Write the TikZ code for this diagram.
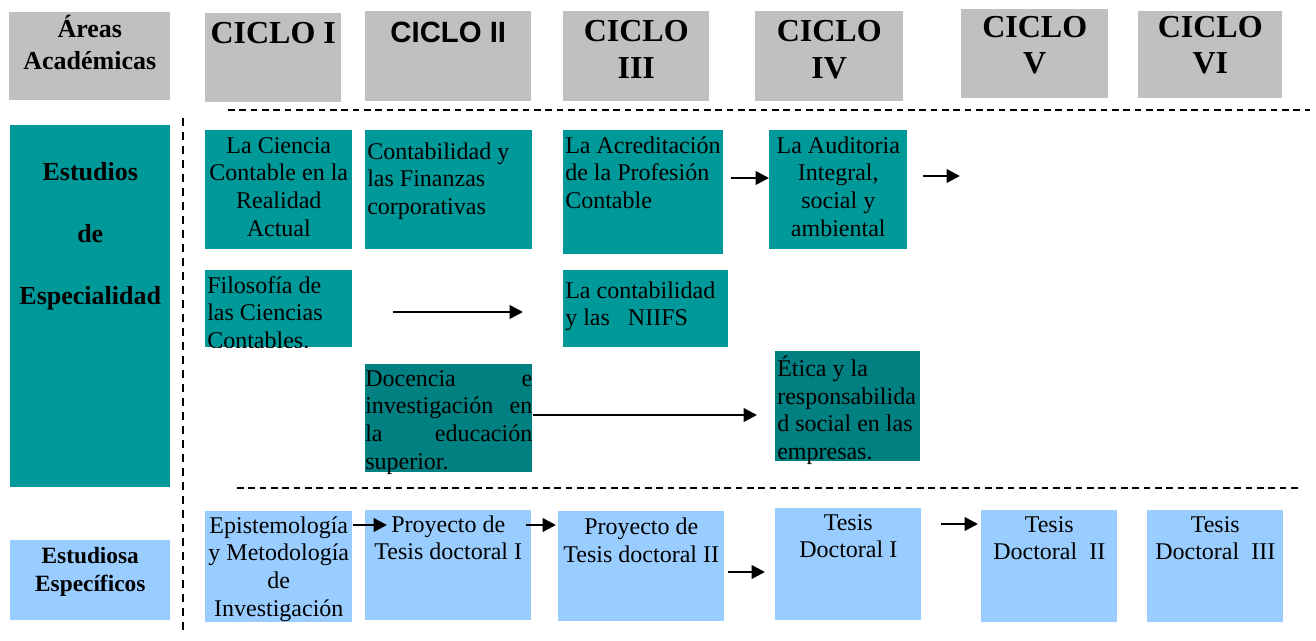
\documentclass[tikz,border=0pt]{standalone}
\usepackage{fontspec}
\setmainfont{Liberation Serif}
\newfontfamily\arialf{Liberation Sans}
\usetikzlibrary{arrows.meta}
\definecolor{grayh}{HTML}{C0C0C0}
\definecolor{tealA}{HTML}{009999}
\definecolor{tealB}{HTML}{008080}
\definecolor{blueL}{HTML}{99CCFF}
\tikzset{
  arr/.style={-{Triangle[length=10pt,width=10pt]}, line width=2pt},
  dlineh/.style={line width=1.2pt, dash pattern=on 5pt off 3.5pt},
  dlinev/.style={line width=1.1pt, dash pattern=on 6pt off 4.5pt},
  bx/.style={inner sep=0pt, anchor=north west},
}
\newcommand\bodyf{\fontsize{18}{20.7}\selectfont}
\newcommand\Ctop[1]{\centering\bodyf\vspace*{#1}\strut}
\newcommand\Ltop[1]{\raggedright\leftskip=1.5pt\bodyf\vspace*{#1}\strut}
\newcommand\tbox[8]{\node[bx,fill=#6] (#1) at (#2,#3) {\parbox[c][\dimexpr #5pt*3/4\relax][t]{\dimexpr #4pt*3/4\relax}{#7#8}};}
\begin{document}
\begin{tikzpicture}[x=0.75pt,y=-0.75pt]
\useasboundingbox (0,0) rectangle (1316,641);
% header row
\tbox{hareas}{9}{12}{161}{88}{grayh}{\centering\fontsize{19.5}{24}\selectfont\bfseries\vspace*{2pt}\strut}{Áreas\\Académicas}
\tbox{hc1}{205}{13}{136}{89}{grayh}{\centering\fontsize{24}{27.75}\selectfont\bfseries\vspace*{3.3pt}\strut}{CICLO I}
\tbox{hc2}{365}{11}{166}{90}{grayh}{\centering\arialf\fontsize{22}{27}\selectfont\bfseries\vspace*{4.2pt}\strut}{CICLO II}
\tbox{hc3}{563}{11}{146}{90}{grayh}{\centering\fontsize{24}{27.75}\selectfont\bfseries\vspace*{3.1pt}\strut}{CICLO\\III}
\tbox{hc4}{755}{11}{148}{90}{grayh}{\centering\fontsize{24}{27.75}\selectfont\bfseries\vspace*{3.1pt}\strut}{CICLO\\IV}
\tbox{hc5}{961}{9}{147}{89}{grayh}{\centering\fontsize{24}{27}\selectfont\bfseries\vspace*{2.3pt}\strut}{CICLO\\V}
\tbox{hc6}{1138}{11}{144}{87}{grayh}{\centering\fontsize{24}{27}\selectfont\bfseries\vspace*{0.8pt}\strut}{CICLO\\VI}
% dashed separators
\draw[dlineh] (228,110) -- (1310,110);
\draw[dlinev] (183,118) -- (183,636);
\draw[dlineh] (237,488) -- (1300,488);
% left area boxes
\tbox{esp}{10}{125}{160}{362}{tealA}{\centering\fontsize{19.5}{46.5}\selectfont\bfseries\vspace*{9pt}\strut}{Estudios\\de\\Especialidad}
\tbox{espec}{10}{540}{160}{80}{blueL}{\centering\fontsize{17.5}{21}\selectfont\bfseries\vspace*{3pt}\strut}{Estudiosa\\Específicos}
% row 1
\tbox{ciencia}{205}{130}{147}{119}{tealA}{\Ctop{2.8pt}}{La Ciencia\\Contable en la\\Realidad\\Actual}
\tbox{finanzas}{365}{130}{167}{119}{tealA}{\Ltop{7.1pt}}{Contabilidad y\\las Finanzas\\corporativas}
\tbox{acred}{563}{130}{160}{124}{tealA}{\Ltop{2.8pt}}{La Acreditación\\de la Profesión\\Contable}
\tbox{audit}{769}{130}{138}{119}{tealA}{\Ctop{2.8pt}}{La Auditoria\\Integral,\\social y\\ambiental}
% row 2
\begin{scope}
\clip (205,270) rectangle (352,347);
\tbox{filo}{205}{270}{147}{77}{tealA}{\Ltop{2.8pt}}{Filosofía de\\las Ciencias\\Contables.}
\end{scope}
\tbox{niifs}{563}{270}{165}{77}{tealA}{\Ltop{6.5pt}}{La contabilidad\\y las~~~NIIFS}
% row 3
\tbox{docencia}{365}{364}{167}{108}{tealB}{\raggedright\bodyf\vspace*{2pt}\strut}{\makebox[\linewidth][s]{Docencia e}\\\makebox[\linewidth][s]{investigación en}\\\makebox[\linewidth][s]{la educación}\\superior.}
\tbox{etica}{775}{351}{145}{110}{tealB}{\Ltop{3.5pt}}{Ética y la\\responsabilida\\d social en las\\empresas.}
% bottom row
\tbox{epist}{205}{511}{147}{111}{blueL}{\Ctop{2pt}}{Epistemología\\y Metodología\\de\\Investigación}
\tbox{proy1}{365}{510}{166}{110}{blueL}{\Ctop{2pt}}{Proyecto de\\Tesis doctoral I}
\tbox{proy2}{558}{511}{166}{110}{blueL}{\Ctop{3.2pt}}{Proyecto de\\Tesis doctoral II}
\tbox{tes1}{775}{508}{146}{112}{blueL}{\Ctop{2pt}}{Tesis\\Doctoral I}
\tbox{tes2}{981}{510}{136}{112}{blueL}{\Ctop{2pt}}{Tesis\\Doctoral~~II}
\tbox{tes3}{1147}{510}{136}{112}{blueL}{\Ctop{2pt}}{Tesis\\Doctoral~~III}
% arrows
\coordinate (free1) at (960,176);
\draw[arr] ([shift={(7,48)}]acred.north east) -- ([shift={(0,48)}]audit.north west);
\draw[arr] ([shift={(15,46)}]audit.north east) -- (free1);
\draw[arr] ([shift={(40,42)}]filo.north east) -- ([shift={(-40,42)}]niifs.north west);
\draw[arr] ([shift={(0,51)}]docencia.north east) -- ([shift={(-18,64)}]etica.north west);
\draw[arr] ([shift={(0,14)}]epist.north east) -- ([shift={(22,15)}]proy1.north west);
\draw[arr] ([shift={(-6,15)}]proy1.north east) -- ([shift={(-2,14)}]proy2.north west);
\draw[arr] ([shift={(3,61)}]proy2.north east) -- ([shift={(-10,64)}]tes1.north west);
\draw[arr] ([shift={(19,16)}]tes1.north east) -- ([shift={(-3,14)}]tes2.north west);
\end{tikzpicture}
\end{document}
